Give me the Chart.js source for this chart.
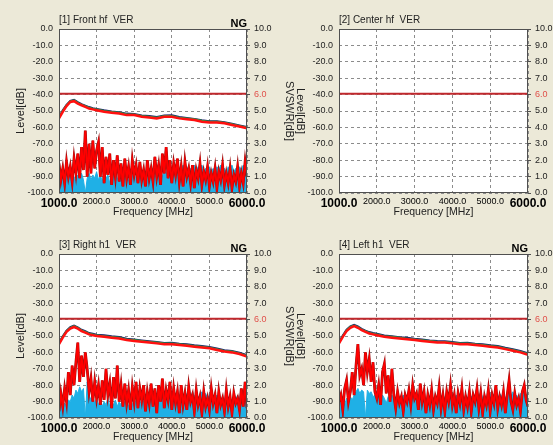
<!DOCTYPE html>
<html>
<head>
<meta charset="utf-8">
<script src="https://cdn.jsdelivr.net/npm/chart.js@4.4.1/dist/chart.umd.min.js"></script>
<style>
  html, body { margin: 0; padding: 0; background: #ECE9D8; width: 553px; height: 445px; overflow: hidden; }
  .panel { position: absolute; }
</style>
</head>
<body>
<div class="panel" style="left:0px;top:0px"><canvas id="p1" width="300" height="222"></canvas></div>
<div class="panel" style="left:280px;top:0px"><canvas id="p2" width="273" height="222"></canvas></div>
<div class="panel" style="left:0px;top:225px"><canvas id="p3" width="300" height="222"></canvas></div>
<div class="panel" style="left:280px;top:225px"><canvas id="p4" width="273" height="222"></canvas></div>
<script>
// Frecuencias (MHz) de las curvas superiores
const upperFreq = [1000, 1100, 1200, 1300, 1400, 1500, 1600, 1700, 1800, 1900, 2000, 2200, 2400, 2600, 2800, 3000,
  3200, 3400, 3600, 3800, 4000, 4200, 4400, 4600, 4800, 5000, 5200, 5400, 5600, 5800, 6000];

// Frecuencias (MHz) del ruido inferior
const noiseFreq = [1000, 1050, 1100, 1150, 1200, 1250, 1300, 1350, 1400, 1450, 1500, 1550, 1600, 1650, 1700, 1750,
  1800, 1850, 1900, 1950, 2000, 2050, 2100, 2150, 2200, 2250, 2300, 2350, 2400, 2450, 2500, 2550, 2600, 2650, 2700,
  2750, 2800, 2850, 2900, 2950, 3000, 3050, 3100, 3150, 3200, 3250, 3300, 3350, 3400, 3450, 3500, 3550, 3600, 3650,
  3700, 3750, 3800, 3850, 3900, 3950, 4000, 4050, 4100, 4150, 4200, 4250, 4300, 4350, 4400, 4450, 4500, 4550, 4600,
  4650, 4700, 4750, 4800, 4850, 4900, 4950, 5000, 5050, 5100, 5150, 5200, 5250, 5300, 5350, 5400, 5450, 5500, 5550,
  5600, 5650, 5700, 5750, 5800, 5850, 5900, 5950, 6000];

const limitFreq = [1000, 6000];
const limitLevel = [-39.5, -39.5];

// [1] Front
const frontRed = [-54.5, -50.5, -47, -44.5, -44, -45.5, -46.5, -47.5, -48.5, -49, -49.5, -50.5, -51, -51.5, -52.5, -52.5,
  -53.5, -54, -54.5, -53.5, -53.5, -54.5, -55, -55.5, -56.5, -57, -57, -57.5, -58.5, -59.5, -60.5];
const frontNavy = [-53.8, -49.6, -46.2, -43.8, -43.2, -44.6, -45.8, -46.7, -47.6, -48.3, -48.7, -49.6, -50.3, -50.7, -51.6, -51.8,
  -52.7, -53.1, -53.7, -52.8, -52.6, -53.7, -54.2, -54.8, -55.6, -56.2, -56.3, -56.8, -57.7, -58.8, -59.8];
const frontGreen = [-54.1, -50, -46.6, -44.1, -43.5, -45, -46.1, -47, -48, -48.6, -49.1, -50, -50.6, -51.1, -52, -52.1,
  -53, -53.5, -54.1, -53.1, -53, -54.1, -54.6, -55.1, -56, -56.6, -56.6, -57.1, -58.1, -59.1, -60.1];
const frontNoise = [-82, -92, -85, -94, -81, -90, -84, -93, -79, -88, -76, -91, -72, -86, -62, -90, -70, -88, -68, -85,
  -74, -69, -90, -72, -94, -78, -89, -76, -95, -80, -90, -77, -93, -82, -96, -79, -91, -84, -95, -80,
  -89, -83, -94, -81, -92, -86, -96, -80, -91, -85, -93, -78, -90, -83, -95, -76, -88, -72, -91, -80,
  -94, -82, -89, -79, -93, -84, -96, -81, -90, -85, -94, -83, -97, -86, -91, -82, -95, -87, -92, -84,
  -96, -88, -93, -85, -97, -87, -92, -83, -95, -88, -94, -85, -97, -89, -93, -84, -96, -88, -94, -81, -90];
const frontCyan = [-89, -92, -90, -93, -89, -91, -88, -92, -90, -93, -89, -91, -88, -92, -100, -91, -88, -92, -89, -91,
  -87, -92, -89, -93, -88, -91, -89, -94, -88, -90, -87, -92, -88, -91, -86, -90, -88, -93, -87, -90,
  -88, -92, -86, -90, -87, -91, -88, -92, -86, -89, -87, -91, -85, -89, -87, -90, -86, -89, -85, -88,
  -86, -89, -84, -88, -85, -87, -83, -88, -84, -87, -85, -88, -83, -87, -84, -86, -83, -87, -85, -88,
  -84, -87, -85, -88, -84, -86, -83, -87, -85, -88, -84, -86, -83, -87, -85, -88, -84, -86, -83, -85, -82];

// [3] Right
const rightRed = [-55, -51, -47.5, -45.5, -44.5, -45.5, -47, -48, -49, -49.5, -50, -50.5, -51, -51.5, -52.5, -53,
  -53.5, -54, -54.5, -55, -55, -55.5, -56, -56.5, -57, -57.5, -58.5, -59.5, -60, -61, -62.5];
const rightNavy = [-54.2, -50.1, -46.7, -44.6, -43.7, -44.7, -46.2, -47.1, -48.2, -48.6, -49.2, -49.6, -50.2, -50.6, -51.7, -52.1,
  -52.7, -53.2, -53.6, -54.2, -54.1, -54.7, -55.1, -55.7, -56.1, -56.7, -57.6, -58.7, -59.1, -60.2, -61.6];
const rightGreen = [-54.6, -50.5, -47, -45, -44, -45.1, -46.6, -47.5, -48.6, -49, -49.6, -50.1, -50.6, -51, -52.1, -52.5,
  -53.1, -53.6, -54, -54.6, -54.5, -55.1, -55.5, -56.1, -56.5, -57.1, -58.1, -59.1, -59.5, -60.6, -62];
const rightNoise = [-96, -85, -93, -82, -90, -72, -86, -68, -80, -66, -54, -78, -62, -75, -60, -70, -84, -76, -90, -78,
  -88, -80, -92, -77, -89, -70, -86, -79, -94, -75, -88, -68, -90, -80, -93, -79, -91, -83, -95, -81,
  -90, -78, -94, -82, -89, -80, -96, -84, -91, -79, -93, -82, -97, -80, -90, -76, -94, -83, -89, -78,
  -95, -82, -91, -84, -97, -80, -92, -85, -95, -81, -90, -86, -96, -83, -92, -87, -97, -84, -93, -88,
  -95, -82, -91, -86, -97, -84, -92, -88, -96, -83, -93, -87, -97, -85, -91, -88, -95, -82, -93, -78, -94];
const rightCyan = [-95, -92, -94, -91, -93, -89, -90, -86, -88, -83, -85, -81, -84, -82, -100, -78, -86, -89, -87, -91,
  -88, -92, -89, -93, -90, -92, -88, -93, -90, -92, -89, -93, -90, -92, -88, -91, -89, -93, -90, -92,
  -88, -91, -89, -92, -88, -90, -87, -91, -88, -90, -86, -89, -85, -88, -86, -84, -87, -85, -88, -84,
  -86, -85, -88, -84, -87, -85, -88, -84, -86, -85, -88, -84, -87, -85, -88, -86, -84, -87, -85, -88,
  -86, -84, -87, -89, -86, -88, -90, -87, -89, -86, -90, -88, -91, -87, -89, -86, -90, -88, -91, -87, -89];

// [4] Left
const leftRed = [-54.5, -50.5, -47, -45, -44, -45, -46.5, -47.5, -48.5, -49, -49.5, -50.5, -51, -51.5, -52, -52.5,
  -53, -53.5, -54, -54, -54.5, -55, -55, -55.5, -56, -56.5, -57, -58, -59, -60, -61.5];
const leftNavy = [-53.7, -49.7, -46.2, -44.1, -43.2, -44.2, -45.6, -46.7, -47.6, -48.2, -48.6, -49.7, -50.1, -50.7, -51.1, -51.7,
  -52.1, -52.7, -53.1, -53.2, -53.6, -54.2, -54.1, -54.7, -55.1, -55.7, -56.1, -57.2, -58.1, -59.2, -60.6];
const leftGreen = [-54.1, -50.1, -46.6, -44.5, -43.6, -44.6, -46.1, -47.1, -48.1, -48.6, -49.1, -50.1, -50.5, -51.1, -51.6, -52.1,
  -52.6, -53.1, -53.5, -53.6, -54.1, -54.6, -54.5, -55.1, -55.5, -56.1, -56.5, -57.6, -58.5, -59.6, -61];
const leftNoise = [-90, -86, -95, -82, -77, -90, -84, -72, -86, -68, -55, -74, -70, -80, -60, -72, -64, -78, -66, -84,
  -88, -80, -92, -72, -67, -85, -74, -90, -70, -86, -94, -84, -91, -87, -96, -86, -90, -83, -92, -80,
  -88, -85, -95, -79, -90, -84, -97, -86, -92, -83, -95, -87, -91, -81, -94, -86, -96, -84, -90, -80,
  -92, -86, -97, -85, -91, -82, -95, -87, -93, -84, -96, -86, -90, -82, -94, -85, -97, -87, -92, -83,
  -96, -86, -91, -80, -94, -87, -92, -84, -97, -86, -77, -90, -95, -85, -92, -88, -96, -84, -80, -89, -93];
const leftCyan = [-88, -91, -89, -92, -88, -90, -87, -89, -86, -84, -82, -85, -83, -84, -100, -83, -85, -84, -87, -86,
  -89, -87, -90, -86, -88, -91, -87, -89, -86, -90, -88, -91, -87, -89, -86, -90, -88, -85, -89, -87,
  -90, -86, -88, -85, -89, -87, -90, -86, -88, -85, -89, -87, -90, -86, -88, -85, -89, -86, -88, -85,
  -87, -89, -86, -88, -85, -87, -89, -86, -88, -85, -87, -86, -89, -85, -87, -84, -88, -86, -89, -85,
  -87, -84, -88, -86, -89, -85, -87, -84, -88, -86, -85, -87, -84, -88, -86, -89, -85, -87, -84, -86, -85];

const FONT = 'Liberation Sans, Arial, sans-serif';

function pts(xs, ys) {
  return xs.map((x, i) => ({ x: x, y: ys[i] }));
}

// Fondo blanco, borde, título y "NG" de cada panel
const panelDecor = {
  id: 'panelDecor',
  beforeDraw(chart) {
    const a = chart.chartArea, ctx = chart.ctx;
    ctx.save();
    ctx.fillStyle = '#ffffff';
    ctx.fillRect(a.left, a.top, a.right - a.left, a.bottom - a.top);
    ctx.restore();
  },
  afterDraw(chart, args, opts) {
    const a = chart.chartArea, ctx = chart.ctx;
    ctx.save();
    ctx.strokeStyle = '#505050';
    ctx.lineWidth = 1;
    ctx.strokeRect(Math.round(a.left) + 0.5, Math.round(a.top) + 0.5,
      Math.round(a.right - a.left) - 1, Math.round(a.bottom - a.top) - 1);
    ctx.fillStyle = '#222';
    ctx.font = '10px ' + FONT;
    ctx.textBaseline = 'alphabetic';
    ctx.textAlign = 'left';
    ctx.fillText(opts.title, a.left, a.top - 6);
    if (opts.ng) {
      ctx.font = 'bold 11px ' + FONT;
      ctx.textAlign = 'right';
      ctx.fillStyle = '#000';
      ctx.fillText('NG', a.right, a.top - 2);
    }
    if (opts.sideTitle) {
      ctx.translate(opts.sideX, (a.top + a.bottom) / 2);
      ctx.rotate(Math.PI / 2);
      ctx.font = '11px ' + FONT;
      ctx.textAlign = 'center';
      ctx.textBaseline = 'middle';
      ctx.fillStyle = '#222';
      ctx.fillText(opts.sideTitle, 0, 0);
    }
    ctx.restore();
  }
};

function makePanel(id, cfg) {
  const datasets = [
    { data: pts(limitFreq, limitLevel), borderColor: '#c0282d', borderWidth: 2 }
  ];
  if (cfg.red) {
    datasets.push(
      { data: pts(upperFreq, cfg.red), borderColor: '#ff1010', borderWidth: 2.5 },
      { data: pts(upperFreq, cfg.green), borderColor: '#2e9e3e', borderWidth: 2 },
      { data: pts(upperFreq, cfg.navy), borderColor: '#1f2470', borderWidth: 2 },
      // ruido: trazo rojo sobre un contorno rojo oscuro
      { data: pts(noiseFreq, cfg.noise), borderColor: '#ff0000', borderWidth: 1.8 },
      { data: pts(noiseFreq, cfg.noise), borderColor: '#a01010', borderWidth: 2.8 },
      { data: pts(noiseFreq, cfg.cyan), borderColor: '#1fb0e6', borderWidth: 1,
        backgroundColor: '#1fb0e6', fill: 'start' }
    );
  }
  datasets.forEach(d => { d.pointRadius = 0; d.tension = 0; d.yAxisID = 'y'; });

  new Chart(document.getElementById(id), {
    type: 'line',
    data: { datasets: datasets },
    options: {
      responsive: false,
      animation: false,
      layout: { padding: { top: 29, left: 0, right: 0, bottom: 1 } },
      plugins: {
        legend: { display: false },
        tooltip: { enabled: false },
        panelDecor: { title: cfg.title, ng: cfg.ng, sideTitle: cfg.sideTitle, sideX: 20 }
      },
      scales: {
        x: {
          type: 'linear', min: 1000, max: 6000,
          afterFit: s => { s.height = 28; },
          ticks: {
            stepSize: 1000, autoSkip: false, maxRotation: 0, padding: 3, color: '#000',
            callback: v => v.toFixed(1),
            font: c => (c.tick && (c.tick.value === 1000 || c.tick.value === 6000))
              ? { family: FONT, size: 12, weight: 'bold' } : { family: FONT, size: 9 }
          },
          grid: { color: '#8c8c8c', drawTicks: false },
          border: { display: false, dash: [3, 3] },
          title: { display: true, text: 'Frequency [MHz]', color: '#222',
            font: { family: FONT, size: 10.5 }, padding: { top: 0, bottom: 3 } }
        },
        y: {
          position: 'left', min: -100, max: 0,
          afterFit: s => { s.width = 59; },
          ticks: { stepSize: 10, padding: 6, color: '#222', font: { family: FONT, size: 9 },
            callback: v => v.toFixed(1) },
          grid: { color: '#8c8c8c', drawTicks: false },
          border: { display: false, dash: [3, 3] },
          title: { display: !cfg.sideTitle, text: 'Level[dB]', color: '#222',
            font: { family: FONT, size: 11 }, padding: { top: 14, bottom: 0 } }
        },
        y2: {
          position: 'right', min: 0, max: 10,
          afterFit: s => { s.width = cfg.rightWidth; },
          ticks: { stepSize: 1, padding: 4, font: { family: FONT, size: 9 },
            color: c => (c.tick && c.tick.value === 6) ? '#e0504a' : '#222',
            callback: v => v.toFixed(1) },
          grid: { drawOnChartArea: false, tickLength: 3, color: '#505050' },
          border: { display: false },
          title: { display: !!cfg.rightTitle, text: 'SVSWR[dB]', color: '#222',
            font: { family: FONT, size: 11 }, padding: { top: 4, bottom: 0 } }
        }
      }
    },
    plugins: [panelDecor]
  });
}

makePanel('p1', { title: '[1] Front hf  VER', ng: true, rightTitle: true, rightWidth: 53,
  red: frontRed, green: frontGreen, navy: frontNavy, noise: frontNoise, cyan: frontCyan });
makePanel('p2', { title: '[2] Center hf  VER', ng: false, sideTitle: 'Level[dB]', rightWidth: 25 });
makePanel('p3', { title: '[3] Right h1  VER', ng: true, rightTitle: true, rightWidth: 53,
  red: rightRed, green: rightGreen, navy: rightNavy, noise: rightNoise, cyan: rightCyan });
makePanel('p4', { title: '[4] Left h1  VER', ng: true, sideTitle: 'Level[dB]', rightWidth: 25,
  red: leftRed, green: leftGreen, navy: leftNavy, noise: leftNoise, cyan: leftCyan });
</script>
</body>
</html>
